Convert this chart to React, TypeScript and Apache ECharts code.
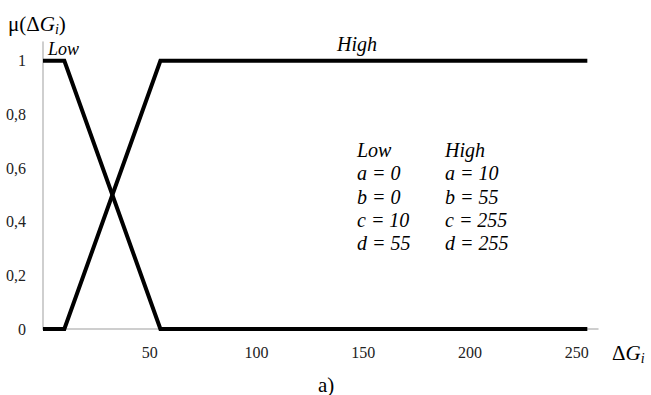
import React, { useEffect, useRef } from "react";
import * as echarts from "echarts";

const xValues = [0, 10, 55, 255];
const lowValues = [1, 1, 0, 0];
const highValues = [0, 0, 1, 1];
const lowParams = ["Low", "a = 0", "b = 0", "c = 10", "d = 55"];
const highParams = ["High", "a = 10", "b = 55", "c = 255", "d = 255"];

const SERIF = "'Liberation Serif', 'Times New Roman', Times, serif";

export default function App() {
  const ref = useRef<HTMLDivElement>(null);
  useEffect(() => {
    if (!ref.current) return;
    const chart = echarts.init(ref.current, null, { renderer: "svg" });
    const lineStyle = { color: "#000", width: 4, join: "miter" as const };
    const richTitle = {
      a: { fontFamily: SERIF, fontSize: 21, lineHeight: 20, verticalAlign: "top", fill: "#000" },
      g: { fontFamily: SERIF, fontSize: 21, fontStyle: "italic", lineHeight: 20, verticalAlign: "top", fill: "#000" },
      s: { fontFamily: SERIF, fontSize: 14, fontStyle: "italic", lineHeight: 10, padding: [9, 0, 0, 0], verticalAlign: "top", fill: "#000" },
    };
    const italic20 = "italic 20px " + SERIF;
    chart.setOption({
      animation: false,
      backgroundColor: "#fff",
      textStyle: { fontFamily: SERIF },
      grid: { left: 43, right: 53, top: 42, bottom: 66 },
      xAxis: {
        type: "value",
        min: 0,
        max: 260,
        interval: 50,
        axisLine: { show: true, lineStyle: { color: "#bfbfbf", width: 1.5 } },
        axisTick: { show: false },
        splitLine: { show: false },
        axisLabel: {
          margin: 15,
          color: "#222",
          fontFamily: SERIF,
          fontSize: 16,
          formatter: (v: number) => (v !== 0 && v % 50 === 0 ? String(v) : ""),
        },
      },
      yAxis: {
        type: "value",
        min: 0,
        max: 1.07,
        interval: 0.2,
        axisLine: { show: true, lineStyle: { color: "#bfbfbf", width: 1.5 } },
        axisTick: { show: false },
        splitLine: { show: false },
        axisLabel: {
          margin: 17,
          color: "#222",
          fontFamily: SERIF,
          fontSize: 16,
          formatter: (v: number) => {
            const r = Math.round(v * 10) / 10;
            if (Math.abs(v - r) > 1e-6 || r > 1) return "";
            return String(r).replace(".", ",");
          },
        },
      },
      series: [
        {
          name: "Low",
          type: "line",
          data: xValues.map((x, i) => [x, lowValues[i]]),
          showSymbol: false,
          lineStyle,
          z: 3,
        },
        {
          name: "High",
          type: "line",
          data: xValues.map((x, i) => [x, highValues[i]]),
          showSymbol: false,
          lineStyle,
          z: 3,
        },
      ],
      graphic: [
        {
          type: "text",
          x: 8,
          y: 13,
          style: { text: "{a|μ(Δ}{g|G}{s|i}{a|)}", fill: "#000", rich: richTitle },
        },
        {
          type: "text",
          x: 612,
          y: 342,
          style: { text: "{a|Δ}{g|G}{s|i}", fill: "#000", rich: richTitle },
        },
        {
          type: "text",
          x: 48,
          y: 48.5,
          style: { text: "Low", font: "italic 18px " + SERIF, lineHeight: 15, fill: "#000", textVerticalAlign: "middle" },
        },
        {
          type: "text",
          x: 337,
          y: 43.5,
          style: { text: "High", font: italic20, lineHeight: 18, fill: "#000", textVerticalAlign: "middle" },
        },
        {
          type: "text",
          x: 357,
          y: 138.5,
          style: {
            text: lowParams.join("\n"),
            font: italic20,
            lineHeight: 23.3,
            fill: "#000",
            textVerticalAlign: "top",
          },
        },
        {
          type: "text",
          x: 445,
          y: 138.5,
          style: {
            text: highParams.join("\n"),
            font: italic20,
            lineHeight: 23.3,
            fill: "#000",
            textVerticalAlign: "top",
          },
        },
        {
          type: "text",
          x: 318,
          y: 384.5,
          style: { text: "a)", font: "21px " + SERIF, lineHeight: 20, fill: "#000", textVerticalAlign: "middle" },
        },
      ],
    });
    return () => chart.dispose();
  }, []);
  return (
    <div
      ref={ref}
      style={{ position: "fixed", left: 0, top: 0, width: 651, height: 395 }}
    />
  );
}
